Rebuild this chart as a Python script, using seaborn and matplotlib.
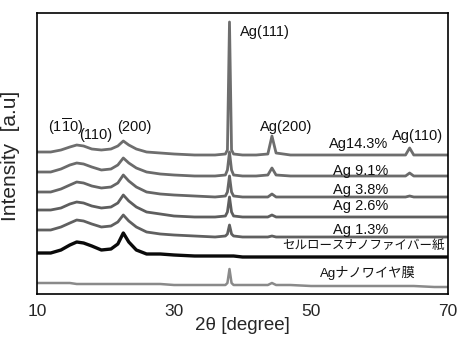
import numpy as np
import pandas as pd
import matplotlib
matplotlib.use("Agg")
import matplotlib.pyplot as plt
import seaborn as sns

# 2theta sampling positions (degree)
two_theta = [10, 12, 13.5, 14.8, 15.8, 16.8, 18, 19.4, 20.8, 21.8, 22.6, 23.4,
             24.5, 26, 28, 30, 33, 36,
             37.5, 37.8, 38.1, 38.4, 38.7,
             40, 42, 43.7, 44.3, 44.9, 47, 50, 55, 60, 63.8, 64.4, 65, 68, 70]

# intensities (arbitrary units, offset stacked as in the figure)
ag_14_3 = [142, 142, 144, 147, 149, 148, 145, 144, 145, 148, 153, 149,
           145, 142, 141, 140, 139, 139,
           140, 144, 272, 144, 140,
           139, 139, 140, 158, 141, 139, 139, 139, 139, 139, 146, 139, 139, 139]
ag_9_1 = [122, 122, 125, 129, 131, 130, 127, 124, 125, 129, 136, 131,
          126, 122, 120, 119, 118, 118,
          119, 124, 142, 124, 119,
          118, 118, 119, 126, 119, 118, 118, 118, 118, 118, 121, 118, 118, 118]
ag_3_8 = [102, 102, 105, 109, 112, 111, 108, 106, 107, 111, 119, 113,
          107, 102, 100, 99, 98, 97,
          98, 102, 118, 102, 98,
          97, 97, 97, 100, 97, 97, 97, 97, 97, 97, 98, 97, 97, 97]
ag_2_6 = [84, 84, 86, 90, 92, 91, 88, 86, 87, 91, 99, 93,
          87, 82, 80, 78, 77, 77,
          78, 82, 97, 82, 78,
          77, 77, 77, 79, 77, 77, 77, 77, 77, 77, 77, 77, 77, 77]
ag_1_3 = [64, 64, 67, 71, 74, 73, 70, 67, 68, 72, 79, 73,
          67, 62, 60, 59, 58, 57,
          58, 60, 69, 60, 58,
          57, 57, 57, 58, 57, 57, 57, 57, 57, 57, 57, 57, 57, 57]
cnf_paper = [41, 41, 44, 49, 52, 51, 48, 44, 45, 50, 61, 52,
             44, 40, 40, 39, 38, 38,
             38, 38, 38, 38, 38,
             37, 37, 37, 37, 37, 37, 37, 37, 37, 37, 37, 37, 37, 37]
ag_nanowire = [11, 11, 11, 11, 10, 10, 10, 10, 10, 10, 10, 10,
               10, 10, 10, 9, 9, 9,
               9, 11, 25, 11, 9,
               9, 9, 9, 11, 9, 9, 8, 8, 8, 8, 8, 8, 7, 7]

series_names = ["Ag14.3%", "Ag 9.1%", "Ag 3.8%", "Ag 2.6%", "Ag 1.3%",
                "セルロースナノファイバー紙", "Agナノワイヤ膜"]
series_values = [ag_14_3, ag_9_1, ag_3_8, ag_2_6, ag_1_3, cnf_paper, ag_nanowire]
series_colors = ["#6e6e6e", "#6b6b6b", "#666666", "#5e5e5e", "#606060", "#0a0a0a", "#8a8a8a"]
series_widths = [2.0, 2.0, 2.0, 2.0, 2.0, 2.4, 1.8]

x_ticks = [10, 30, 50, 70]

sns.set_style("white")
plt.rcParams["font.family"] = ["Liberation Sans", "Noto Sans CJK JP", "DejaVu Sans"]
plt.rcParams["mathtext.fontset"] = "custom"
plt.rcParams["mathtext.rm"] = "Liberation Sans"

fig = plt.figure(figsize=(4.59, 3.40), dpi=100)
ax = fig.add_axes([37 / 459, 1 - 294 / 340, 411 / 459, 281 / 340])

for name, vals, col, lw in zip(series_names, series_values, series_colors, series_widths):
    df = pd.DataFrame({"two_theta": two_theta, "intensity": vals})
    sns.lineplot(data=df, x="two_theta", y="intensity", ax=ax, color=col,
                 linewidth=lw, estimator=None, sort=False)

ax.set_xlim(10, 70)
ax.set_ylim(0, 281)
ax.set_xticks(x_ticks)
ax.set_xticklabels([str(t) for t in x_ticks], fontsize=12.5)
ax.set_yticks([])
ax.tick_params(axis="x", direction="in", length=5, width=1, color="black", pad=7)
for sp in ax.spines.values():
    sp.set_visible(True)
    sp.set_color("black")
    sp.set_linewidth(1.2)
ax.set_xlabel("2θ [degree]", fontsize=13.5, labelpad=-1)
ax.set_ylabel("Intensity  [a.u]", fontsize=15)
ax.yaxis.set_label_coords(-0.042, 0.49)

fs = 10.5
label_specs = [
    ("Ag(111)", 43.3, 262, fs),
    ("Ag(200)", 46.4, 167, fs),
    ("Ag14.3%", 56.9, 150, fs),
    ("Ag(110)", 65.6, 158, fs),
    ("Ag 9.1%", 57.3, 123, fs),
    ("Ag 3.8%", 57.3, 104, fs),
    ("Ag 2.6%", 57.3, 88, fs),
    ("Ag 1.3%", 57.3, 64, fs),
    ("セルロースナノファイバー紙", 57.7, 48, 9.0),
    ("Agナノワイヤ膜", 58.3, 21, 9.5),
    (r"(1$\overline{1}$0)", 14.2, 167, fs),
    ("(110)", 18.6, 159, fs),
    ("(200)", 24.2, 167, fs),
]
for txt, x, y, s in label_specs:
    ax.text(x, y, txt, fontsize=s, ha="center", va="center", color="#111111")

fig.savefig("out.png", dpi=100)
